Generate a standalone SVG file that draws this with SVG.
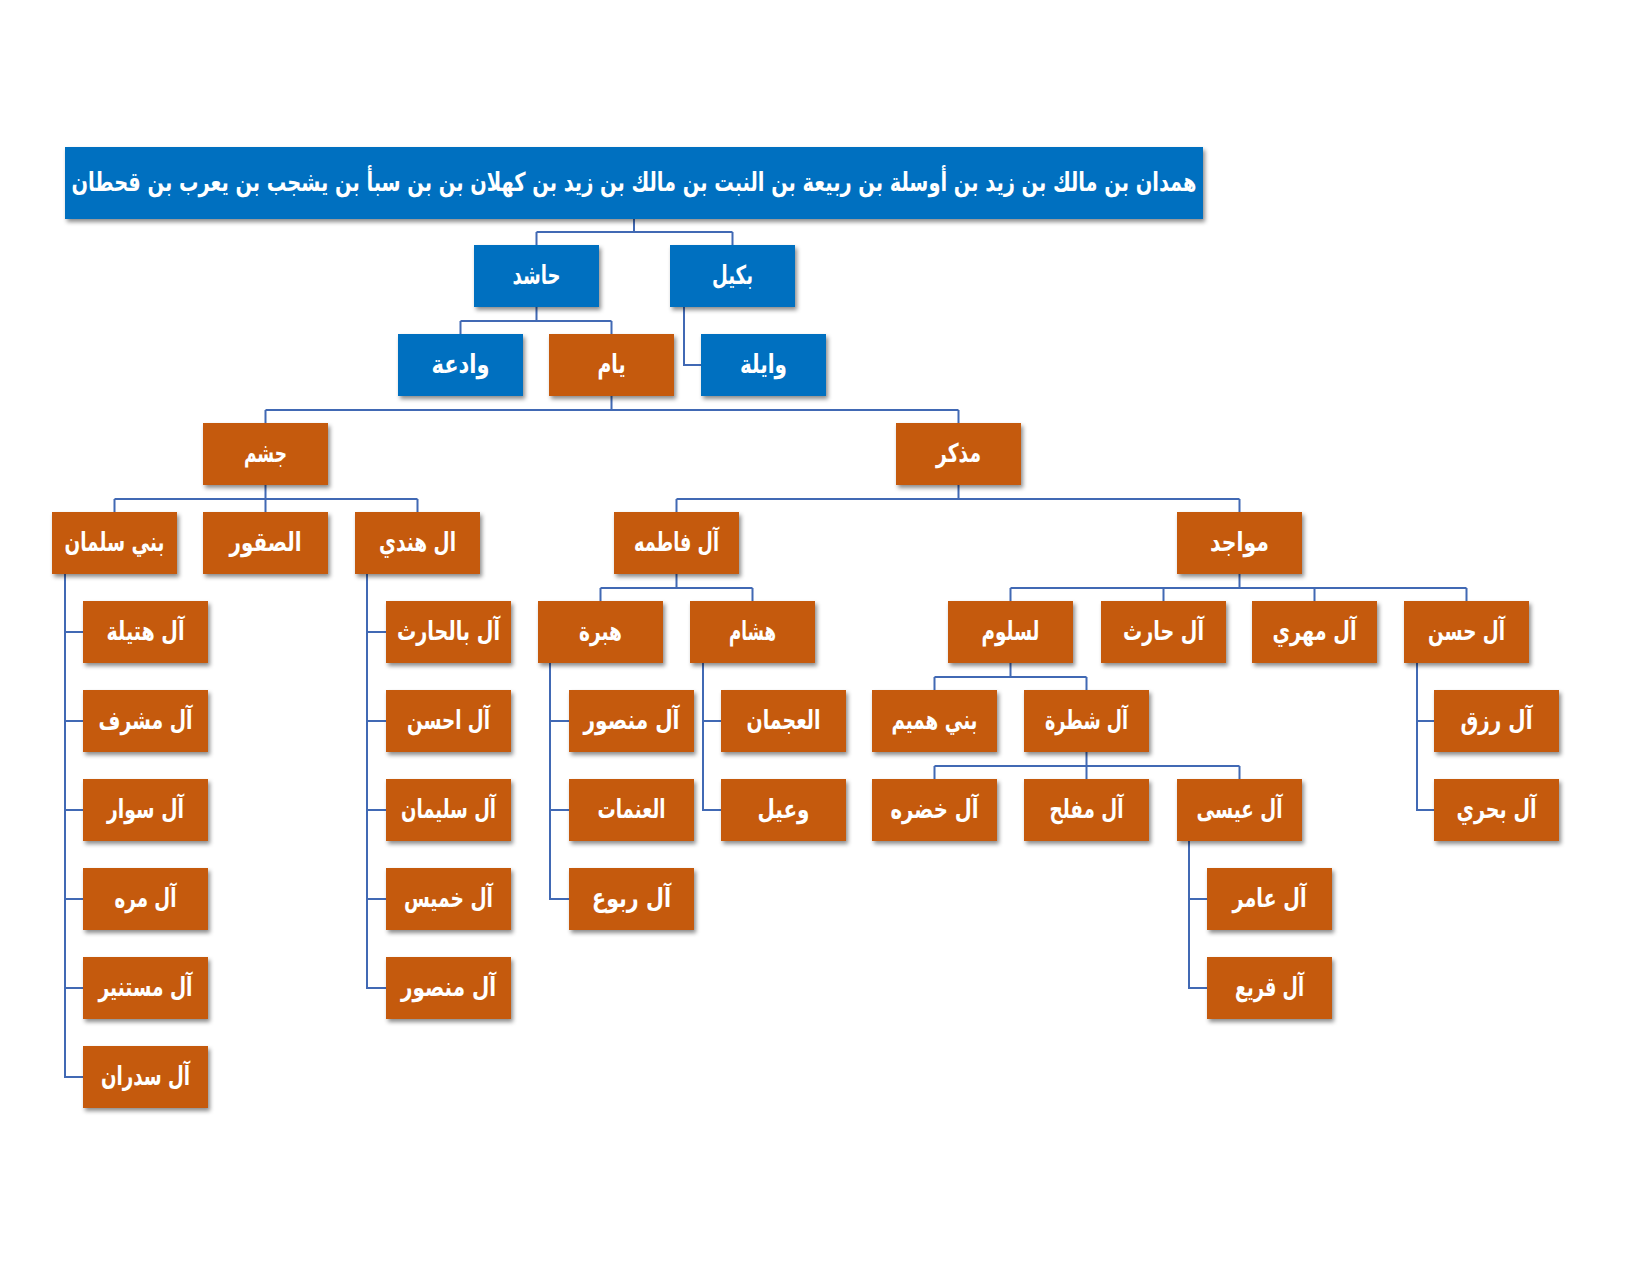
<svg xmlns="http://www.w3.org/2000/svg" width="1650" height="1275" viewBox="0 0 1650 1275">
<defs>
<filter id="sh" x="-10%" y="-10%" width="125%" height="140%">
<feDropShadow dx="2" dy="3" stdDeviation="2" flood-color="#000" flood-opacity="0.45"/>
</filter>
<style>
.b{fill:#0070C0;filter:url(#sh)}
.o{fill:#C55A11;filter:url(#sh)}
text{font-family:"DejaVu Sans","Liberation Sans","Noto Sans",sans-serif;font-weight:bold;font-size:26px;fill:#fff;text-anchor:middle;dominant-baseline:central}
.c{fill:none;stroke:#4169B4;stroke-width:2}
</style>
</defs>
<rect width="1650" height="1275" fill="#fff"/>
<g id="connectors" class="c">
<path d="M634 219V232M536.5 232H732.5M536.5 232V245M732.5 232V245"/>
<path d="M536.5 307V321M460.5 321H611.5M460.5 321V334M611.5 321V334"/>
<path d="M684 307V365H701"/>
<path d="M611.5 396V410M265.5 410H958.5M265.5 410V423M958.5 410V423"/>
<path d="M265.5 485V499M114.5 499H417.5M114.5 499V512M265.5 499V512M417.5 499V512"/>
<path d="M958.5 485V499M676.5 499H1239.5M676.5 499V512M1239.5 499V512"/>
<path d="M676.5 574V588M600.5 588H752.5M600.5 588V601M752.5 588V601"/>
<path d="M1239.5 574V588M1010.5 588H1466.5M1010.5 588V601M1163.5 588V601M1314.5 588V601M1466.5 588V601"/>
<path d="M1010.5 663V677M934.5 677H1086.5M934.5 677V690M1086.5 677V690"/>
<path d="M1086.5 752V766M934.5 766H1239.5M934.5 766V779M1086.5 766V779M1239.5 766V779"/>
<path d="M65 574V1077H83M65 632H83M65 721H83M65 810H83M65 899H83M65 988H83"/>
<path d="M367 574V988H386M367 632H386M367 721H386M367 810H386M367 899H386"/>
<path d="M550 663V899H569M550 721H569M550 810H569"/>
<path d="M703 663V810H721M703 721H721"/>
<path d="M1189 841V988H1207M1189 899H1207"/>
<path d="M1417 663V810H1434M1417 721H1434"/>
</g>
<g id="n-root"><rect class="b" x="65" y="147" width="1138" height="72"/><text x="634" y="182" textLength="1125" lengthAdjust="spacingAndGlyphs">همدان بن مالك بن زيد بن أوسلة بن ربيعة بن النبت بن مالك بن زيد بن كهلان بن بن سبأ بن يشجب بن يعرب بن قحطان</text></g>
<g id="n-hashid"><rect class="b" x="474" y="245" width="125" height="62"/><text x="536.5" y="275" textLength="48" lengthAdjust="spacingAndGlyphs">حاشد</text></g>
<g id="n-bakil"><rect class="b" x="670" y="245" width="125" height="62"/><text x="732.5" y="275" textLength="41" lengthAdjust="spacingAndGlyphs">بكيل</text></g>
<g id="n-wadea"><rect class="b" x="398" y="334" width="125" height="62"/><text x="460.5" y="364" textLength="58" lengthAdjust="spacingAndGlyphs">وادعة</text></g>
<g id="n-yam"><rect class="o" x="549" y="334" width="125" height="62"/><text x="611.5" y="364" textLength="28" lengthAdjust="spacingAndGlyphs">يام</text></g>
<g id="n-wayla"><rect class="b" x="701" y="334" width="125" height="62"/><text x="763.5" y="364" textLength="47" lengthAdjust="spacingAndGlyphs">وايلة</text></g>
<g id="n-jusham"><rect class="o" x="203" y="423" width="125" height="62"/><text x="265.5" y="453" textLength="43" lengthAdjust="spacingAndGlyphs">جشم</text></g>
<g id="n-mathkar"><rect class="o" x="896" y="423" width="125" height="62"/><text x="958.5" y="453" textLength="45" lengthAdjust="spacingAndGlyphs">مذكر</text></g>
<g id="n-banisalman"><rect class="o" x="52" y="512" width="125" height="62"/><text x="114.5" y="542" textLength="100" lengthAdjust="spacingAndGlyphs">بني سلمان</text></g>
<g id="n-saqoor"><rect class="o" x="203" y="512" width="125" height="62"/><text x="265.5" y="542" textLength="72" lengthAdjust="spacingAndGlyphs">الصقور</text></g>
<g id="n-alhindi"><rect class="o" x="355" y="512" width="125" height="62"/><text x="417.5" y="542" textLength="77" lengthAdjust="spacingAndGlyphs">ال هندي</text></g>
<g id="n-alfatima"><rect class="o" x="614" y="512" width="125" height="62"/><text x="676.5" y="542" textLength="85" lengthAdjust="spacingAndGlyphs">آل فاطمه</text></g>
<g id="n-mawajid"><rect class="o" x="1177" y="512" width="125" height="62"/><text x="1239.5" y="542" textLength="59" lengthAdjust="spacingAndGlyphs">مواجد</text></g>
<g id="n-hutayla"><rect class="o" x="83" y="601" width="125" height="62"/><text x="145.5" y="631" textLength="78" lengthAdjust="spacingAndGlyphs">آل هتيلة</text></g>
<g id="n-balharith"><rect class="o" x="386" y="601" width="125" height="62"/><text x="448.5" y="631" textLength="103" lengthAdjust="spacingAndGlyphs">آل بالحارث</text></g>
<g id="n-hubra"><rect class="o" x="538" y="601" width="125" height="62"/><text x="600.5" y="631" textLength="43" lengthAdjust="spacingAndGlyphs">هبرة</text></g>
<g id="n-hisham"><rect class="o" x="690" y="601" width="125" height="62"/><text x="752.5" y="631" textLength="47" lengthAdjust="spacingAndGlyphs">هشام</text></g>
<g id="n-lasloom"><rect class="o" x="948" y="601" width="125" height="62"/><text x="1010.5" y="631" textLength="58" lengthAdjust="spacingAndGlyphs">لسلوم</text></g>
<g id="n-alharith"><rect class="o" x="1101" y="601" width="125" height="62"/><text x="1163.5" y="631" textLength="81" lengthAdjust="spacingAndGlyphs">آل حارث</text></g>
<g id="n-almahri"><rect class="o" x="1252" y="601" width="125" height="62"/><text x="1314.5" y="631" textLength="84" lengthAdjust="spacingAndGlyphs">آل مهري</text></g>
<g id="n-alhasan"><rect class="o" x="1404" y="601" width="125" height="62"/><text x="1466.5" y="631" textLength="77" lengthAdjust="spacingAndGlyphs">آل حسن</text></g>
<g id="n-mushrif"><rect class="o" x="83" y="690" width="125" height="62"/><text x="145.5" y="720" textLength="94" lengthAdjust="spacingAndGlyphs">آل مشرف</text></g>
<g id="n-ahsan"><rect class="o" x="386" y="690" width="125" height="62"/><text x="448.5" y="720" textLength="83" lengthAdjust="spacingAndGlyphs">آل احسن</text></g>
<g id="n-mansour1"><rect class="o" x="569" y="690" width="125" height="62"/><text x="631.5" y="720" textLength="96" lengthAdjust="spacingAndGlyphs">آل منصور</text></g>
<g id="n-ajman"><rect class="o" x="721" y="690" width="125" height="62"/><text x="783.5" y="720" textLength="74" lengthAdjust="spacingAndGlyphs">العجمان</text></g>
<g id="n-banihumaim"><rect class="o" x="872" y="690" width="125" height="62"/><text x="934.5" y="720" textLength="86" lengthAdjust="spacingAndGlyphs">بني هميم</text></g>
<g id="n-shatra"><rect class="o" x="1024" y="690" width="125" height="62"/><text x="1086.5" y="720" textLength="83" lengthAdjust="spacingAndGlyphs">آل شطرة</text></g>
<g id="n-rizq"><rect class="o" x="1434" y="690" width="125" height="62"/><text x="1496.5" y="720" textLength="72" lengthAdjust="spacingAndGlyphs">آل رزق</text></g>
<g id="n-sawar"><rect class="o" x="83" y="779" width="125" height="62"/><text x="145.5" y="809" textLength="77" lengthAdjust="spacingAndGlyphs">آل سوار</text></g>
<g id="n-sulaiman"><rect class="o" x="386" y="779" width="125" height="62"/><text x="448.5" y="809" textLength="95" lengthAdjust="spacingAndGlyphs">آل سليمان</text></g>
<g id="n-anamat"><rect class="o" x="569" y="779" width="125" height="62"/><text x="631.5" y="809" textLength="68" lengthAdjust="spacingAndGlyphs">العنمات</text></g>
<g id="n-waeel"><rect class="o" x="721" y="779" width="125" height="62"/><text x="783.5" y="809" textLength="52" lengthAdjust="spacingAndGlyphs">وعيل</text></g>
<g id="n-khadra"><rect class="o" x="872" y="779" width="125" height="62"/><text x="934.5" y="809" textLength="88" lengthAdjust="spacingAndGlyphs">آل خضره</text></g>
<g id="n-muflih"><rect class="o" x="1024" y="779" width="125" height="62"/><text x="1086.5" y="809" textLength="74" lengthAdjust="spacingAndGlyphs">آل مفلح</text></g>
<g id="n-eesa"><rect class="o" x="1177" y="779" width="125" height="62"/><text x="1239.5" y="809" textLength="86" lengthAdjust="spacingAndGlyphs">آل عيسى</text></g>
<g id="n-bahri"><rect class="o" x="1434" y="779" width="125" height="62"/><text x="1496.5" y="809" textLength="80" lengthAdjust="spacingAndGlyphs">آل بحري</text></g>
<g id="n-murra"><rect class="o" x="83" y="868" width="125" height="62"/><text x="145.5" y="898" textLength="62" lengthAdjust="spacingAndGlyphs">آل مره</text></g>
<g id="n-khamees"><rect class="o" x="386" y="868" width="125" height="62"/><text x="448.5" y="898" textLength="89" lengthAdjust="spacingAndGlyphs">آل خميس</text></g>
<g id="n-rabou"><rect class="o" x="569" y="868" width="125" height="62"/><text x="631.5" y="898" textLength="79" lengthAdjust="spacingAndGlyphs">آل ربوع</text></g>
<g id="n-amir"><rect class="o" x="1207" y="868" width="125" height="62"/><text x="1269.5" y="898" textLength="74" lengthAdjust="spacingAndGlyphs">آل عامر</text></g>
<g id="n-mustaneer"><rect class="o" x="83" y="957" width="125" height="62"/><text x="145.5" y="987" textLength="94" lengthAdjust="spacingAndGlyphs">آل مستنير</text></g>
<g id="n-mansour2"><rect class="o" x="386" y="957" width="125" height="62"/><text x="448.5" y="987" textLength="95" lengthAdjust="spacingAndGlyphs">آل منصور</text></g>
<g id="n-quraie"><rect class="o" x="1207" y="957" width="125" height="62"/><text x="1269.5" y="987" textLength="69" lengthAdjust="spacingAndGlyphs">آل قريع</text></g>
<g id="n-sadran"><rect class="o" x="83" y="1046" width="125" height="62"/><text x="145.5" y="1076" textLength="89" lengthAdjust="spacingAndGlyphs">آل سدران</text></g>
</svg>
